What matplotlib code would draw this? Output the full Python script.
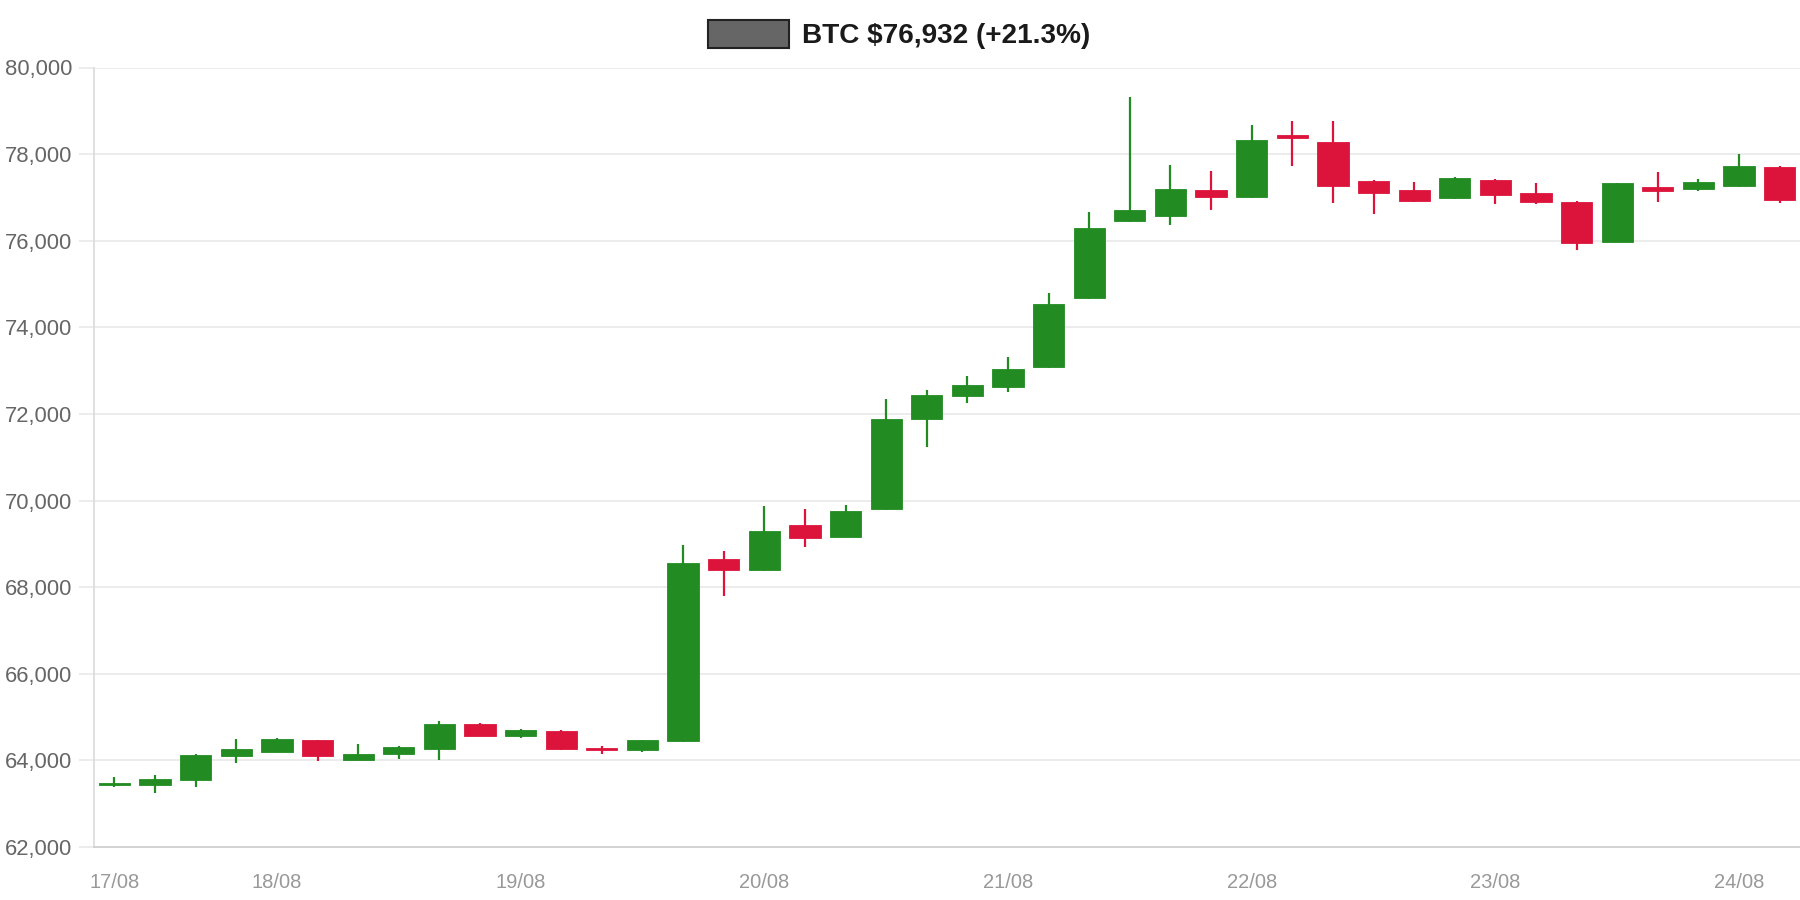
import matplotlib
matplotlib.use('Agg')
import matplotlib.pyplot as plt
from matplotlib.patches import Rectangle
import numpy as np

plt.rcParams['font.family'] = ['Liberation Sans', 'DejaVu Sans']

# 4h candles, 17/08 -> 24/08
opens  = [63420, 63431, 63537, 64094, 64200, 64465, 64014, 64147, 64253, 64837,
          64571, 64677, 64280, 64227, 64440, 68654, 68389, 69423, 69158, 69794,
          71888, 72418, 72630, 73081, 74672, 76448, 76580, 77163, 77004, 78436,
          78277, 77376, 77163, 76978, 77402, 77110, 76898, 75970, 77243, 77190,
          77270, 77694]
highs  = [63617, 63670, 64147, 64492, 64510, 64480, 64386, 64330, 64916, 64850,
          64730, 64690, 64330, 64480, 68972, 68840, 69873, 69794, 69900, 72339,
          72550, 72869, 73320, 74800, 76660, 79311, 77747, 77614, 78675, 78754,
          78754, 77400, 77349, 77480, 77430, 77323, 76920, 77340, 77588, 77430,
          78012, 77720]
lows   = [63390, 63246, 63378, 63935, 64190, 63988, 64010, 64041, 64014, 64560,
          64518, 64230, 64150, 64200, 64420, 67805, 68380, 68919, 69150, 69790,
          71225, 72259, 72498, 73070, 74660, 76440, 76368, 76713, 76980, 77720,
          76872, 76607, 76900, 76960, 76845, 76845, 75785, 75960, 76898, 77137,
          77240, 76872]
closes = [63470, 63564, 64120, 64253, 64492, 64094, 64147, 64306, 64837, 64571,
          64704, 64253, 64227, 64465, 68548, 68389, 69290, 69131, 69767, 71888,
          72445, 72657, 73028, 74539, 76289, 76713, 77190, 77004, 78330, 78383,
          77270, 77110, 76925, 77455, 77057, 76898, 75944, 77323, 77137, 77349,
          77720, 76932]
tick_pos = [0, 4, 10, 16, 22, 28, 34, 40]
tick_labels = ['17/08', '18/08', '19/08', '20/08', '21/08', '22/08', '23/08', '24/08']
y_ticks = np.arange(62000, 80001, 2000)
legend_text = 'BTC $76,932 (+21.3%)'

UP = '#228b22'
DOWN = '#dc143c'

fig = plt.figure(figsize=(18, 9), dpi=100)
ax = fig.add_axes([0.0523, 0.059, 0.9477, 0.866])

w = 0.77
for i, (o, h, l, c) in enumerate(zip(opens, highs, lows, closes)):
    col = UP if c >= o else DOWN
    ax.vlines(i, l, h, color=col, lw=1.6, zorder=2)
    lo = min(o, c)
    hgt = max(abs(c - o), 40)
    ax.add_patch(Rectangle((i - w / 2, lo), w, hgt, facecolor=col,
                           edgecolor=col, lw=0.6, zorder=3))

ax.set_xlim(-0.5, len(opens) - 0.5)
ax.set_ylim(62000, 80000)
ax.set_yticks(y_ticks)
ax.set_yticklabels([f'{v:,}' for v in y_ticks])
ax.set_xticks(tick_pos)
ax.set_xticklabels(tick_labels)

ax.grid(axis='y', color='#ebebeb', lw=1.3, zorder=0)
ax.set_axisbelow(True)
ax.tick_params(axis='y', length=11, width=1.3, color='#ebebeb', pad=5,
               labelsize=15.8, labelcolor='#666666')
ax.tick_params(axis='x', length=0, pad=19, labelsize=14.5, labelcolor='#999999')
for s in ['top', 'right']:
    ax.spines[s].set_visible(False)
ax.spines['left'].set_color('#dddddd')
ax.spines['left'].set_linewidth(1.3)
ax.spines['bottom'].set_color('#d0d0d0')
ax.spines['bottom'].set_linewidth(1.3)

# legend
fig.add_artist(Rectangle((708 / 1800, 1 - 48 / 900), 81 / 1800, 28.5 / 900,
                         transform=fig.transFigure, facecolor='#666666',
                         edgecolor='#222222', lw=1.5))
fig.text(802 / 1800, 1 - 36 / 900, legend_text, fontsize=20.2,
         fontweight='bold', color='#1a1a1a', va='center', ha='left')

fig.savefig('out.png', dpi=100)
